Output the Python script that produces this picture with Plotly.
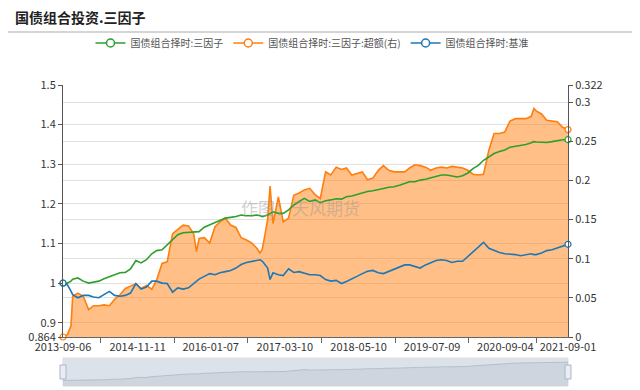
import plotly.graph_objects as go
import pandas as pd

# ---------------- data ----------------
dates = [
    "2013-09-06", "2013-10-01", "2013-10-22", "2013-11-01", "2013-12-01",
    "2014-01-01", "2014-02-01", "2014-03-01", "2014-04-01", "2014-05-01", "2014-06-01",
    "2014-07-01", "2014-08-01", "2014-09-01", "2014-10-01", "2014-11-01", "2014-12-01",
    "2015-01-01", "2015-02-01", "2015-03-01", "2015-04-01", "2015-05-01", "2015-06-01",
    "2015-07-01", "2015-08-01", "2015-09-01", "2015-10-01", "2015-10-17", "2015-11-01", "2015-12-01",
    "2016-01-01", "2016-02-01", "2016-03-01", "2016-04-01", "2016-05-01", "2016-06-01",
    "2016-07-01", "2016-08-01", "2016-09-01", "2016-10-01", "2016-10-18", "2016-11-01",
    "2016-12-01", "2016-12-15",
    "2017-01-01", "2017-02-01", "2017-03-01", "2017-04-01", "2017-05-01", "2017-06-01",
    "2017-07-01", "2017-08-01", "2017-09-01", "2017-10-01", "2017-11-01", "2017-12-01",
    "2018-01-01", "2018-02-01", "2018-03-01", "2018-04-01", "2018-05-01", "2018-06-01",
    "2018-07-01", "2018-08-01", "2018-09-01", "2018-10-01", "2018-11-01", "2018-12-01",
    "2019-01-01", "2019-02-01", "2019-03-01", "2019-04-01", "2019-05-01", "2019-06-01",
    "2019-07-01", "2019-08-01", "2019-09-01", "2019-10-01", "2019-11-01", "2019-12-01",
    "2020-01-01", "2020-02-01", "2020-03-01", "2020-04-01", "2020-05-01", "2020-06-01",
    "2020-07-01", "2020-08-01", "2020-09-01", "2020-10-01", "2020-11-01", "2020-12-01",
    "2021-01-01", "2021-02-01", "2021-02-16", "2021-03-01", "2021-04-01", "2021-05-01",
    "2021-06-01", "2021-07-01", "2021-08-01", "2021-09-01",
]

three_factor = [  # 国债组合择时:三因子 (left axis)
    1.000, 1.000, 1.005, 1.010, 1.013,
    1.005, 1.000, 1.003, 1.005, 1.011, 1.017,
    1.021, 1.026, 1.027, 1.036, 1.057, 1.051,
    1.059, 1.074, 1.082, 1.084, 1.097, 1.108,
    1.122, 1.127, 1.128, 1.129, 1.128, 1.130, 1.141,
    1.147, 1.153, 1.160, 1.164, 1.166, 1.168,
    1.172, 1.170, 1.170, 1.172, 1.170, 1.168,
    1.172, 1.176,
    1.180, 1.176, 1.176, 1.185, 1.197, 1.206,
    1.214, 1.206, 1.210, 1.203, 1.208, 1.210,
    1.213, 1.212, 1.218, 1.220, 1.224, 1.227,
    1.231, 1.233, 1.237, 1.239, 1.242, 1.243,
    1.247, 1.252, 1.256, 1.256, 1.260, 1.262,
    1.265, 1.269, 1.273, 1.273, 1.270, 1.268,
    1.271, 1.278, 1.289, 1.297, 1.310, 1.319,
    1.327, 1.332, 1.336, 1.343, 1.345, 1.348,
    1.350, 1.354, 1.357, 1.356, 1.355, 1.355,
    1.357, 1.359, 1.362, 1.362,
]

excess = [  # 国债组合择时:三因子:超额(右) (right axis)
    0.000, 0.003, 0.014, 0.052, 0.056,
    0.052, 0.035, 0.040, 0.040, 0.041, 0.040,
    0.048, 0.054, 0.062, 0.065, 0.068, 0.062,
    0.066, 0.061, 0.073, 0.094, 0.096, 0.132,
    0.138, 0.143, 0.142, 0.132, 0.109, 0.126, 0.127,
    0.120, 0.141, 0.147, 0.152, 0.143, 0.140,
    0.127, 0.124, 0.120, 0.113, 0.107, 0.113,
    0.150, 0.193,
    0.145, 0.179, 0.147, 0.152, 0.181, 0.184,
    0.188, 0.190, 0.182, 0.177, 0.211, 0.207,
    0.217, 0.214, 0.216, 0.207, 0.209, 0.211,
    0.201, 0.203, 0.213, 0.219, 0.213, 0.211,
    0.211, 0.211, 0.216, 0.220, 0.219, 0.217,
    0.213, 0.216, 0.217, 0.216, 0.218, 0.217,
    0.216, 0.213, 0.208, 0.207, 0.208, 0.239,
    0.260, 0.260, 0.262, 0.276, 0.279, 0.279,
    0.279, 0.282, 0.292, 0.289, 0.285, 0.277,
    0.276, 0.275, 0.268, 0.265,
]

benchmark = [  # 国债组合择时:基准 (left axis)
    1.000, 0.996, 0.980, 0.971, 0.963,
    0.969, 0.969, 0.965, 0.963, 0.971, 0.979,
    0.969, 0.967, 0.969, 0.975, 0.999, 0.985,
    0.990, 1.005, 1.005, 1.000, 0.999, 0.977,
    0.988, 0.985, 0.988, 0.999, 1.005, 1.010, 1.017,
    1.024, 1.021, 1.026, 1.029, 1.032, 1.038,
    1.047, 1.052, 1.055, 1.057, 1.059, 1.055,
    1.038, 1.009,
    1.026, 1.021, 1.019, 1.036, 1.027, 1.029,
    1.026, 1.021, 1.021, 1.019, 1.009, 1.005,
    1.007, 0.999, 1.004, 1.010, 1.017, 1.024,
    1.030, 1.032, 1.026, 1.024, 1.030, 1.036,
    1.042, 1.046, 1.046, 1.042, 1.038, 1.046,
    1.051, 1.057, 1.059, 1.057, 1.052, 1.055,
    1.055, 1.067, 1.077, 1.091, 1.103, 1.088,
    1.083, 1.077, 1.074, 1.073, 1.072, 1.069,
    1.072, 1.074, 1.072, 1.072, 1.076, 1.082,
    1.084, 1.088, 1.094, 1.098,
]

x_labels = ["2013-09-06", "2014-11-11", "2016-01-07", "2017-03-10",
            "2018-05-10", "2019-07-09", "2020-09-04", "2021-09-01"]
left_ticks = [0.864, 0.9, 1.0, 1.1, 1.2, 1.3, 1.4, 1.5]
left_text = ["0.864", "0.9", "1", "1.1", "1.2", "1.3", "1.4", "1.5"]
right_ticks = [0, 0.05, 0.1, 0.15, 0.2, 0.25, 0.3, 0.322]
right_text = ["0", "0.05", "0.1", "0.15", "0.2", "0.25", "0.3", "0.322"]

names = ["国债组合择时:三因子", "国债组合择时:三因子:超额(右)", "国债组合择时:基准"]
colors = ["#2ca02c", "#ff7f0e", "#1f77b4"]

# ---------------- geometry (screen px; page body has an 8px margin) ----------------
FONT = "Noto Sans CJK SC, Microsoft YaHei, sans-serif"
OFF = 8
W, H = 640 - OFF, 390 - OFF
plot_left, plot_right, plot_top, plot_bottom = 63, 568, 85, 337
slider_top, slider_bot = 358, 386
L = plot_left - OFF
R = W - (plot_right - OFF)
T = plot_top - OFF
B = H - (slider_bot - OFF)
ph = H - T - B
pw = W - L - R


def py(sy):
    return (H - B - (sy - OFF)) / ph


def pxx(sx):
    return (sx - OFF - L) / pw


lbl = pd.to_datetime(x_labels)
mids = [lbl[i] + (lbl[i + 1] - lbl[i]) / 2 for i in range(len(lbl) - 1)]

fig = go.Figure()

# excess (right axis) - base y axis so that left-axis lines draw on top
fig.add_trace(go.Scatter(
    x=dates, y=excess, xaxis="x", yaxis="y", mode="lines",
    line=dict(color=colors[1], width=1.6), fill="tozeroy",
    fillcolor="rgba(255,127,14,0.5)", showlegend=False, hoverinfo="skip"))
fig.add_trace(go.Scatter(
    x=dates, y=three_factor, xaxis="x", yaxis="y2", mode="lines",
    line=dict(color=colors[0], width=1.6), showlegend=False, hoverinfo="skip"))
fig.add_trace(go.Scatter(
    x=dates, y=benchmark, xaxis="x", yaxis="y2", mode="lines",
    line=dict(color=colors[2], width=1.6), showlegend=False, hoverinfo="skip"))

# end-point hollow markers
for ser, col, ax in [(excess, colors[1], "y"), (three_factor, colors[0], "y2"),
                     (benchmark, colors[2], "y2")]:
    fig.add_trace(go.Scatter(
        x=[dates[0], dates[-1]], y=[ser[0], ser[-1]], xaxis="x", yaxis=ax,
        mode="markers", marker=dict(size=6, color="white", line=dict(color=col, width=1.2)),
        showlegend=False, hoverinfo="skip", cliponaxis=False))

# legend entries
for nm, col in zip(names, colors):
    fig.add_trace(go.Scatter(
        x=[None], y=[None], xaxis="x", yaxis="y2", mode="lines+markers", name=nm,
        line=dict(color=col, width=1.5),
        marker=dict(size=8, color="white", line=dict(color=col, width=1.5))))

# slider data shadow
fig.add_trace(go.Scatter(
    x=dates, y=three_factor, xaxis="x2", yaxis="y3", mode="lines",
    line=dict(color="rgba(47,69,84,0.3)", width=0.6), fill="tozeroy",
    fillcolor="rgba(47,69,84,0.08)", showlegend=False, hoverinfo="skip"))

# dummy trace to activate overlay tick axis
fig.add_trace(go.Scatter(x=[dates[0]], y=[None], xaxis="x3", yaxis="y2",
                         showlegend=False, hoverinfo="skip"))

x_range = [dates[0], dates[-1]]
axis_font = dict(family=FONT, size=11, color="#333")

fig.update_layout(
    template="none",
    width=W, height=H,
    margin=dict(l=L, r=R, t=T, b=B, autoexpand=False),
    paper_bgcolor="white", plot_bgcolor="rgba(0,0,0,0)",
    font=dict(family=FONT, size=11, color="#333"),
    title=dict(text="<b>国债组合投资.三因子</b>", x=(15 - OFF) / W, xanchor="left",
               xref="container", y=1 - (18 - OFF) / H, yanchor="middle", yref="container",
               font=dict(family=FONT, size=14, color="#222")),
    showlegend=True,
    legend=dict(orientation="h", x=pxx(312), xanchor="center", y=py(43), yanchor="middle",
                font=dict(family=FONT, size=10, color="#555"), bgcolor="rgba(0,0,0,0)",
                traceorder="normal", borderwidth=0),
    xaxis=dict(domain=[0, 1], anchor="y", type="date", range=x_range,
               tickvals=x_labels, ticktext=x_labels, ticks="", showgrid=False,
               showline=True, linecolor="#666", linewidth=1, tickfont=axis_font,
               zeroline=False, fixedrange=True, automargin=False),
    xaxis3=dict(overlaying="x", anchor="y", type="date", range=x_range,
                tickvals=mids, ticks="outside", ticklen=5, tickcolor="#666",
                showticklabels=False, showgrid=False, showline=False, zeroline=False,
                automargin=False),
    yaxis=dict(domain=[py(plot_bottom), 1], anchor="x", side="right",
               range=[0, 0.322], tickvals=right_ticks, ticktext=right_text,
               ticks="outside", ticklen=4, tickcolor="#555", showline=True,
               linecolor="#555", showgrid=True, gridcolor="#e0e0e0", gridwidth=1,
               zeroline=False, tickfont=axis_font, automargin=False),
    yaxis2=dict(overlaying="y", anchor="x", side="left",
                range=[0.864, 1.5], tickvals=left_ticks, ticktext=left_text,
                ticks="outside", ticklen=4, tickcolor="#555", showline=True,
                linecolor="#555", showgrid=True, gridcolor="#e0e0e0", gridwidth=1,
                zeroline=False, tickfont=axis_font, automargin=False),
    xaxis2=dict(domain=[0, 1], anchor="y3", type="date", range=x_range, visible=False),
    yaxis3=dict(domain=[py(slider_bot), py(slider_top)], anchor="x2",
                range=[0.886, 1.446], visible=False),
)

shapes = [
    # title separator
    dict(type="line", xref="paper", yref="paper", x0=pxx(OFF), x1=pxx(640),
         y0=py(32), y1=py(32), line=dict(color="#aaaaaa", width=1)),
    # slider body
    dict(type="rect", xref="paper", yref="paper", x0=0, x1=1,
         y0=py(slider_bot), y1=py(slider_top),
         fillcolor="rgba(167,183,203,0.4)", line=dict(color="#dddddd", width=1),
         layer="below"),
]
hc = (slider_top + slider_bot) / 2
for hx in (plot_left, plot_right):
    shapes.append(dict(type="rect", xref="paper", yref="paper",
                       x0=pxx(hx - 3), x1=pxx(hx + 3), y0=py(hc + 7), y1=py(hc - 7),
                       fillcolor="#e9edf3", line=dict(color="#a7b7cc", width=1)))
fig.update_layout(shapes=shapes)

fig.add_annotation(text="作图：天风期货", xref="paper", yref="paper",
                   x=pxx(300), y=py(207), showarrow=False,
                   font=dict(family=FONT, size=17, color="rgba(150,150,150,0.45)"))

fig.write_html("out.html")
